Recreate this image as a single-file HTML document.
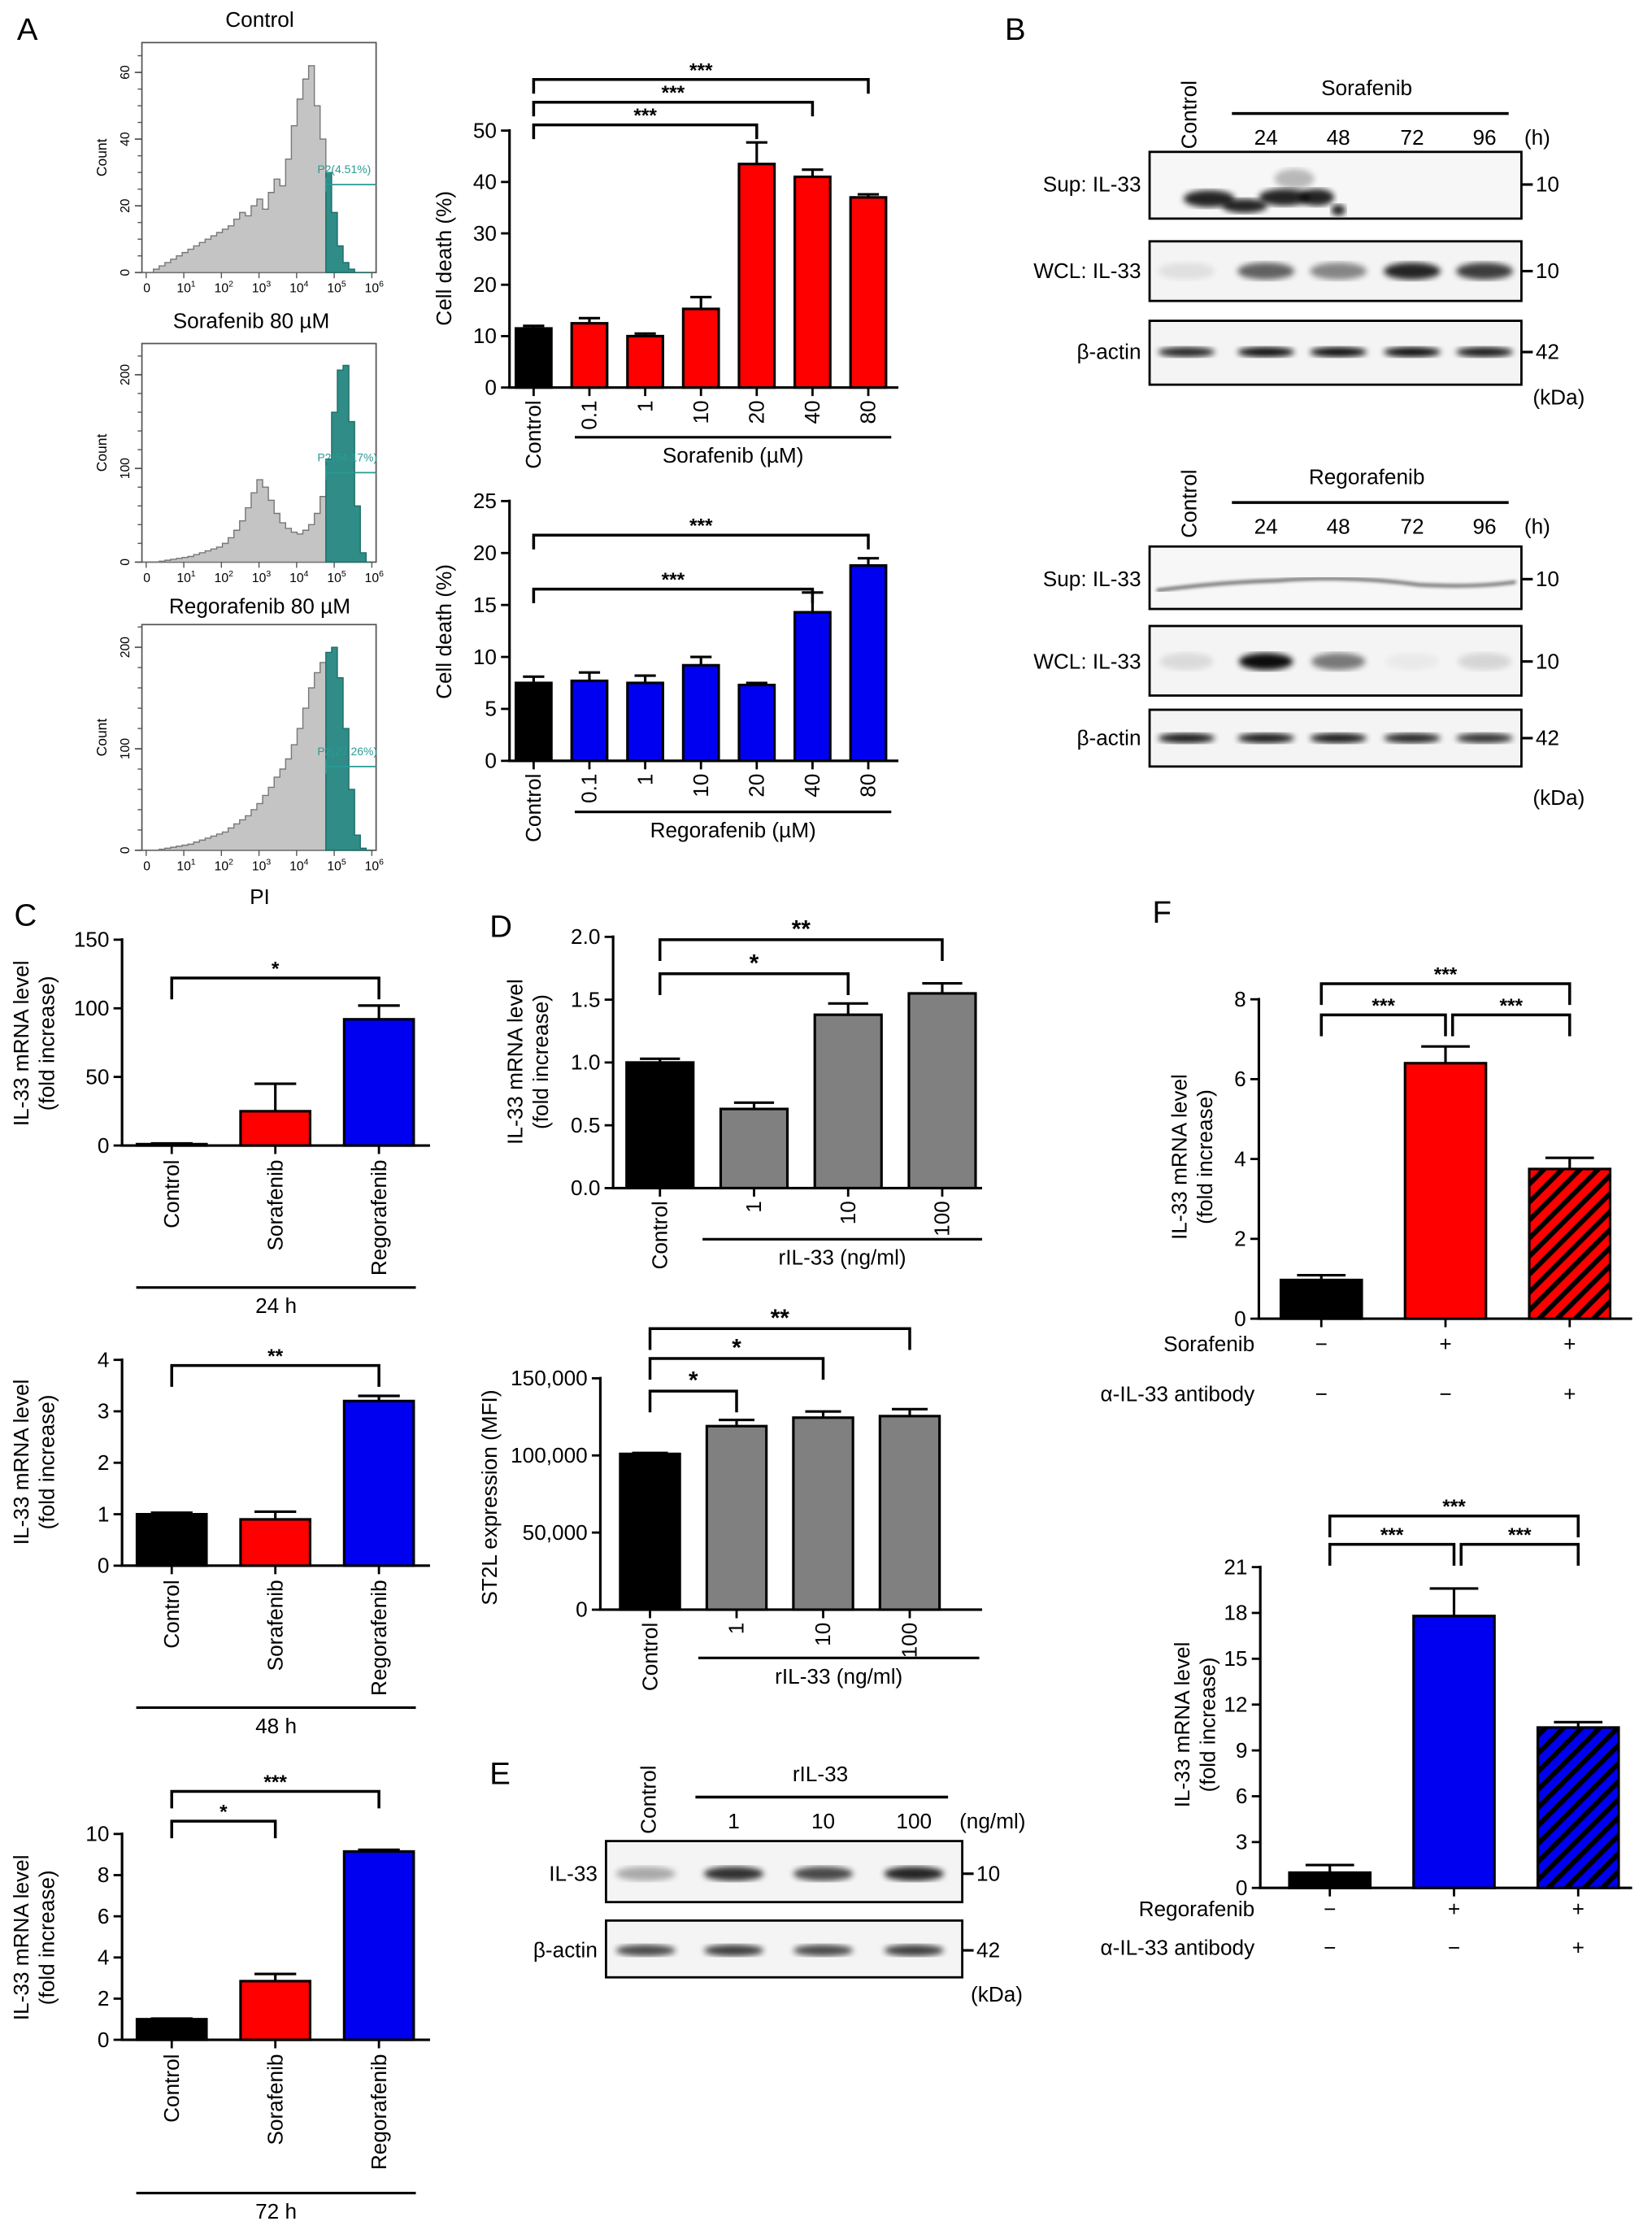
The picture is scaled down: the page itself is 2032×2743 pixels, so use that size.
<!DOCTYPE html>
<html><head><meta charset="utf-8">
<style>
html,body{margin:0;padding:0;background:#fff;}
svg{display:block;font-family:"Liberation Sans",Arial,sans-serif;}
</style></head>
<body>
<svg id="fig" width="2032" height="2743" viewBox="0 0 1164 1571" preserveAspectRatio="none" xmlns="http://www.w3.org/2000/svg">
<defs>
<pattern id="hatchRed" patternUnits="userSpaceOnUse" width="9" height="9" patternTransform="rotate(45)">
<rect width="9" height="9" fill="#f00"/><rect width="3.5" height="9" fill="#000"/></pattern>
<pattern id="hatchBlue" patternUnits="userSpaceOnUse" width="9" height="9" patternTransform="rotate(45)">
<rect width="9" height="9" fill="#0000f0"/><rect width="3.5" height="9" fill="#000"/></pattern>
<filter id="blur2"><feGaussianBlur stdDeviation="2.2"/></filter>
<filter id="blur1"><feGaussianBlur stdDeviation="1.2"/></filter>
</defs>
</svg>
<script>
// ---------- DATA ----------
const catsA = ["Control","0.1","1","10","20","40","80"];
const sorafenibDeath = [11.5,12.5,10,15.3,43.5,41,37];
const sorafenibDeathErr = [0.5,1,0.5,2.3,4.2,1.4,0.6];
const regorafenibDeath = [7.5,7.7,7.5,9.2,7.3,14.3,18.8];
const regorafenibDeathErr = [0.6,0.8,0.7,0.8,0.2,1.9,0.7];
const ticksA1 = [0,10,20,30,40,50];
const ticksA2 = [0,5,10,15,20,25];

const catsC = ["Control","Sorafenib","Regorafenib"];
const mrna24 = [1,25,92];
const mrna24Err = [0.5,20,10];
const mrna48 = [1,0.9,3.2];
const mrna48Err = [0.03,0.15,0.1];
const mrna72 = [1,2.85,9.15];
const mrna72Err = [0.03,0.35,0.08];
const ticksC1 = [0,50,100,150];
const ticksC2 = [0,1,2,3,4];
const ticksC3 = [0,2,4,6,8,10];

const catsD = ["Control","1","10","100"];
const rilMrna = [1.0,0.63,1.38,1.55];
const rilMrnaErr = [0.03,0.05,0.09,0.08];
const st2l = [101000,119000,124500,125500];
const st2lErr = [600,4000,4000,4500];
const ticksD1 = [0,0.5,1.0,1.5,2.0];
const ticksD1Labels = ["0.0","0.5","1.0","1.5","2.0"];
const ticksD2 = [0,50000,100000,150000];
const ticksD2Labels = ["0","50,000","100,000","150,000"];

const sorafAb = [0.97,6.4,3.75];
const sorafAbErr = [0.12,0.42,0.28];
const regoAb = [1.0,17.8,10.5];
const regoAbErr = [0.5,1.8,0.35];
const ticksF1 = [0,2,4,6,8];
const ticksF2 = [0,3,6,9,12,15,18,21];
const rowDrug = ["−","+","+"];
const rowAb = ["−","−","+"];

const histControl = [0,0,1,2,3,4,5,6,7,8,9,10,11,12,13,14,16,18,17,20,22,19,24,28,26,34,44,52,58,62,50,40,30,18,8,3,1,0,0,0];
const histSoraf = [0,0,0,1,2,3,4,5,6,8,10,12,14,16,20,26,34,44,58,74,88,80,66,52,42,36,32,30,34,40,52,70,110,160,205,210,150,60,10,0];
const histRego = [0,0,0,1,2,3,4,5,6,8,10,12,14,16,18,22,26,30,34,40,46,54,62,72,80,90,104,120,140,160,175,185,195,200,170,120,60,15,2,0];

// ---------- HELPERS ----------
const NS = "http://www.w3.org/2000/svg";
const svg = document.getElementById("fig");
function mk(tag, attrs, name, parent) {
  const el = document.createElementNS(NS, tag);
  for (const k in attrs) el.setAttribute(k, attrs[k]);
  
  
  (parent || svg).appendChild(el);
  return el;
}
function grp(name) { return mk("g", {}, name); }
function text(x, y, s, size, name, parent, extra) {
  const a = {x: x, y: y, "font-size": size, fill: "#000"};
  if (extra) for (const k in extra) a[k] = extra[k];
  const t = mk("text", a, name, parent);
  t.textContent = s;
  return t;
}
function vtext(x, y, s, size, name, parent, anchor) {
  return text(x, y, s, size, name, parent, {"text-anchor": anchor || "end", transform: "rotate(-90 " + x + " " + y + ")"});
}
function line(x1, y1, x2, y2, name, parent, w, col) {
  return mk("line", {x1: x1, y1: y1, x2: x2, y2: y2, stroke: col || "#000", "stroke-width": w || 1.6}, name, parent);
}

function barChart(o) {
  const g = grp(o.name);
  const sy = v => o.y0 - (v / o.max) * (o.y0 - o.yTop);
  const drop = o.drop || 10;
  line(o.ax, o.y0, o.ax, o.yTop - 1, "y-axis", g, 1.8);
  line(o.ax - 1, o.y0, o.axEnd, o.y0, "x-axis", g, 1.8);
  o.ticks.forEach((t, i) => {
    line(o.ax - 6, sy(t), o.ax, sy(t), "y-tick", g, 1.6);
    text(o.ax - 9, sy(t) + 5, o.tickLabels ? o.tickLabels[i] : String(t), o.tfs || 15, "y-tick-label", g, {"text-anchor": "end"});
  });
  o.values.forEach((v, i) => {
    const cx = o.cx0 + i * o.step;
    const top = sy(v);
    mk("rect", {x: cx - o.bw / 2, y: top, width: o.bw, height: o.y0 - top, fill: o.fills[i], stroke: "#000", "stroke-width": 1.8}, "bar-" + (o.cats ? o.cats[i] : i), g);
    const et = sy(v + o.errs[i]);
    line(cx, top, cx, et, "error-bar", g, 1.8);
    line(cx - o.bw * 0.3, et, cx + o.bw * 0.3, et, "error-cap", g, 1.8);
    line(cx, o.y0, cx, o.y0 + 6, "x-tick", g, 1.6);
    if (o.cats && o.catY) vtext(cx + 5, o.catY, o.cats[i], o.cfs || 15, "x-tick-label", g);
  });
  (o.brackets || []).forEach(b => {
    const xa = o.cx0 + b[0] * o.step + (b[4] || 0), xb = o.cx0 + b[1] * o.step;
    mk("path", {d: "M" + xa + " " + (b[2] + drop) + " V" + b[2] + " H" + xb + " V" + (b[2] + drop), fill: "none", stroke: "#000", "stroke-width": 2}, "significance-bracket", g);
    text((xa + xb) / 2, b[2] - 2, b[3], o.bigStars ? 17 : 14, "significance-label", g, {"text-anchor": "middle", "font-weight": "bold"});
  });
  if (o.yTitle) {
    o.yTitle.forEach((s, i) => vtext(o.ytx + i * 18, o.yty, s, 15, "y-axis-title", g, "middle"));
  }
  if (o.underline) {
    line(o.underline[0], o.underline[2], o.underline[1], o.underline[2], "group-underline", g, 1.8);
    text((o.underline[0] + o.underline[1]) / 2, o.underline[2] + 18, o.groupLabel, 15, "group-label", g, {"text-anchor": "middle"});
  }
  return {g: g, sy: sy};
}

function hist(o) {
  const g = grp(o.name);
  mk("rect", {x: o.x0, y: o.yTop, width: o.x1 - o.x0, height: o.y0 - o.yTop, fill: "#fff", stroke: "#555", "stroke-width": 1}, "histogram-frame", g);
  const n = o.bins.length, bw = (o.x1 - 3 - o.x0) / n;
  const sy = v => o.y0 - v * o.scale;
  let gray = "M" + o.x0 + " " + o.y0, teal = "M" + (o.x0 + o.gate * bw) + " " + o.y0;
  o.bins.forEach((v, i) => {
    const x = o.x0 + i * bw;
    const seg = " L" + x + " " + sy(v) + " L" + (x + bw) + " " + sy(v);
    if (i < o.gate) gray += seg; else teal += seg;
  });
  gray += " L" + (o.x0 + o.gate * bw) + " " + o.y0 + " Z";
  teal += " L" + (o.x0 + n * bw) + " " + o.y0 + " Z";
  mk("path", {d: gray, fill: "#c4c4c4", stroke: "#777", "stroke-width": 0.8}, "histogram-gray", g);
  mk("path", {d: teal, fill: "#2f8c86", stroke: "#1f6e69", "stroke-width": 0.8}, "histogram-gated", g);
  const gx = o.x0 + o.gate * bw;
  line(gx, o.gateY - 5, gx, o.gateY + 5, "gate-marker", g, 1, "#2a9a94");
  line(gx, o.gateY, o.x1, o.gateY, "gate-line", g, 1, "#2a9a94");
  text(gx - 6, o.gateY - 8, o.gateLabel, 8, "gate-label", g, {fill: "#2a9a94"});
  o.yt.forEach((t, i) => {
    line(o.x0 - 5, sy(t), o.x0, sy(t), "y-tick", g, 1, "#555");
    vtext(o.x0 - 9, sy(t), String(t), 9, "y-tick-label", g, "middle");
  });
  for (let v = 0; v <= o.yt[o.yt.length - 1] + o.minor; v += o.minor) {
    if (sy(v) > o.yTop) line(o.x0 - 3, sy(v), o.x0, sy(v), "y-minor-tick", g, 0.8, "#555");
  }
  vtext(o.x0 - 25, (o.y0 + o.yTop) / 2, "Count", 10, "y-axis-title", g, "middle");
  const lab = ["0", "10", "10", "10", "10", "10", "10"];
  for (let i = 0; i < 7; i++) {
    const x = o.x0 + 3 + i * (o.x1 - o.x0 - 6) / 6;
    line(x, o.y0, x, o.y0 + 4, "x-tick", g, 0.8, "#555");
    const t = text(x - (i ? 5 : 2), o.y0 + 14, lab[i], 9, "x-tick-label", g);
    if (i) { const s = document.createElementNS(NS, "tspan"); s.setAttribute("dy", "-4"); s.setAttribute("font-size", "6"); s.textContent = String(i); t.appendChild(s); }
  }
}

function blot(o) {
  const g = grp(o.name);
  mk("rect", {x: o.x, y: o.y, width: o.w, height: o.h, fill: o.bg || "#f4f4f4", stroke: "#000", "stroke-width": 1.6}, "blot-frame", g);
  (o.bands || []).forEach((v, i) => {
    if (v > 0) mk("ellipse", {cx: o.lanes[i], cy: o.by, rx: o.bw / 2, ry: o.bh / 2, fill: "#000", opacity: v, filter: "url(#blur2)"}, "band", g);
  });
  text(o.x - 6, o.by + 5, o.label, 15, "blot-label", g, {"text-anchor": "end"});
  line(o.x + o.w, o.by, o.x + o.w + 8, o.by, "marker-tick", g, 1.8);
  text(o.x + o.w + 10, o.by + 5, o.kda, 15, "marker-label", g);
  return g;
}

// ---------- PANEL LETTERS ----------
[["A",12,28],["B",708,28],["C",10,652],["D",345,660],["E",345,1257],["F",812,650]].forEach(p => text(p[1], p[2], p[0], 22, "panel-label-" + p[0].toLowerCase()));

// ---------- A: histograms ----------
text(183, 19, "Control", 15, "histogram-title", null, {"text-anchor": "middle"});
hist({name: "histogram-control", x0: 100, x1: 265, yTop: 30, y0: 192, bins: histControl, scale: 2.35, gate: 32, gateY: 130, gateLabel: "P2(4.51%)", yt: [0,20,40,60], minor: 5});
text(177, 231, "Sorafenib 80 \u00b5M", 15, "histogram-title", null, {"text-anchor": "middle"});
hist({name: "histogram-sorafenib", x0: 100, x1: 265, yTop: 242, y0: 396, bins: histSoraf, scale: 0.66, gate: 32, gateY: 333, gateLabel: "P2(54.17%)", yt: [0,100,200], minor: 20});
text(183, 432, "Regorafenib 80 \u00b5M", 15, "histogram-title", null, {"text-anchor": "middle"});
hist({name: "histogram-regorafenib", x0: 100, x1: 265, yTop: 440, y0: 599, bins: histRego, scale: 0.715, gate: 32, gateY: 540, gateLabel: "P2(27.26%)", yt: [0,100,200], minor: 20});
text(183, 637, "PI", 15, "x-axis-title-pi", null, {"text-anchor": "middle"});

// ---------- A: bar charts ----------
barChart({name: "chart-sorafenib-cell-death", ax: 359, axEnd: 633, y0: 273, yTop: 92, max: 50, ticks: ticksA1,
  values: sorafenibDeath, errs: sorafenibDeathErr, fills: ["#000","#f00","#f00","#f00","#f00","#f00","#f00"],
  cx0: 376, step: 39.3, bw: 25, cats: catsA, catY: 282,
  brackets: [[0,4,88,"***"],[0,5,72,"***"],[0,6,56,"***"]],
  yTitle: ["Cell death (%)"], ytx: 318, yty: 182, underline: [405, 628, 308], groupLabel: "Sorafenib (\u00b5M)"});
barChart({name: "chart-regorafenib-cell-death", ax: 359, axEnd: 633, y0: 536, yTop: 353, max: 25, ticks: ticksA2,
  values: regorafenibDeath, errs: regorafenibDeathErr, fills: ["#000","#0000f0","#0000f0","#0000f0","#0000f0","#0000f0","#0000f0"],
  cx0: 376, step: 39.3, bw: 25, cats: catsA, catY: 545,
  brackets: [[0,5,415,"***"],[0,6,377,"***"]],
  yTitle: ["Cell death (%)"], ytx: 318, yty: 445, underline: [405, 628, 572], groupLabel: "Regorafenib (\u00b5M)"});

// ---------- B: blots ----------
function blotHeader(y, label, name) {
  const g = grp(name);
  vtext(843, y + 38, "Control", 15, "lane-label-control", g, "start");
  text(963, y, label, 15, "treatment-label", g, {"text-anchor": "middle"});
  line(868, y + 13, 1063, y + 13, "treatment-underline", g, 2);
  [["24",892],["48",943],["72",995],["96",1046]].forEach(l => text(l[1], y + 35, l[0], 15, "time-label", g, {"text-anchor": "middle"}));
  text(1074, y + 35, "(h)", 15, "time-unit", g);
}
const lanesB = [836, 892, 943, 995, 1046];
blotHeader(67, "Sorafenib", "blot-header-sorafenib");
const supS = blot({name: "blot-sorafenib-sup", x: 810, y: 107, w: 262, h: 47, by: 130, lanes: lanesB, bands: [], bw: 40, bh: 10, label: "Sup: IL-33", kda: "10", bg: "#f7f7f7"});
[[852,140,18,6],[877,145,16,5],[905,139,18,6],[928,139,12,6],[943,148,5,4],[912,126,14,7]].forEach((e, i) =>
  mk("ellipse", {cx: e[0], cy: e[1], rx: e[2], ry: e[3], fill: "#000", opacity: i == 5 ? 0.25 : 0.85, filter: "url(#blur2)"}, "band", supS));
blot({name: "blot-sorafenib-wcl", x: 810, y: 170, w: 262, h: 42, by: 191, lanes: lanesB, bands: [0.08,0.6,0.45,0.85,0.75], bw: 40, bh: 12, label: "WCL: IL-33", kda: "10"});
blot({name: "blot-sorafenib-actin", x: 810, y: 226, w: 262, h: 45, by: 248, lanes: lanesB, bands: [0.85,0.95,0.95,0.95,0.9], bw: 40, bh: 7, label: "\u03b2-actin", kda: "42"});
text(1080, 285, "(kDa)", 15, "kda-unit");

blotHeader(341, "Regorafenib", "blot-header-regorafenib");
const supR = blot({name: "blot-regorafenib-sup", x: 810, y: 385, w: 262, h: 44, by: 408, lanes: lanesB, bands: [], bw: 40, bh: 6, label: "Sup: IL-33", kda: "10", bg: "#f7f7f7"});
mk("path", {d: "M815 416 Q860 410 900 409 Q950 405 1000 412 Q1040 414 1068 410", fill: "none", stroke: "#000", "stroke-width": 1.8, opacity: 0.75, filter: "url(#blur1)"}, "band", supR);
blot({name: "blot-regorafenib-wcl", x: 810, y: 441, w: 262, h: 49, by: 466, lanes: lanesB, bands: [0.1,0.95,0.5,0.04,0.12], bw: 38, bh: 12, label: "WCL: IL-33", kda: "10"});
blot({name: "blot-regorafenib-actin", x: 810, y: 500, w: 262, h: 40, by: 520, lanes: lanesB, bands: [0.9,0.9,0.9,0.85,0.8], bw: 40, bh: 7, label: "\u03b2-actin", kda: "42"});
text(1080, 567, "(kDa)", 15, "kda-unit");

// ---------- C ----------
const fillsC = ["#000", "#f00", "#0000f0"];
barChart({name: "chart-mrna-24h", ax: 86, axEnd: 303, y0: 807, yTop: 662, max: 150, ticks: ticksC1,
  values: mrna24, errs: mrna24Err, fills: fillsC, cx0: 121, step: 73, bw: 49, cats: catsC, catY: 817, drop: 15,
  brackets: [[0,2,689,"*"]], yTitle: ["IL-33 mRNA level", "(fold increase)"], ytx: 20, yty: 735,
  underline: [96, 293, 907], groupLabel: "24 h"});
barChart({name: "chart-mrna-48h", ax: 86, axEnd: 303, y0: 1103, yTop: 958, max: 4, ticks: ticksC2,
  values: mrna48, errs: mrna48Err, fills: fillsC, cx0: 121, step: 73, bw: 49, cats: catsC, catY: 1113, drop: 15,
  brackets: [[0,2,962,"**"]], yTitle: ["IL-33 mRNA level", "(fold increase)"], ytx: 20, yty: 1030,
  underline: [96, 293, 1203], groupLabel: "48 h"});
barChart({name: "chart-mrna-72h", ax: 86, axEnd: 303, y0: 1437, yTop: 1292, max: 10, ticks: ticksC3,
  values: mrna72, errs: mrna72Err, fills: fillsC, cx0: 121, step: 73, bw: 49, cats: catsC, catY: 1447, drop: 12,
  brackets: [[0,1,1283,"*"],[0,2,1262,"***"]], yTitle: ["IL-33 mRNA level", "(fold increase)"], ytx: 20, yty: 1365,
  underline: [96, 293, 1545], groupLabel: "72 h"});

// ---------- D ----------
const fillsD = ["#000", "#808080", "#808080", "#808080"];
barChart({name: "chart-ril33-mrna", ax: 432, axEnd: 692, y0: 837, yTop: 660, max: 2, ticks: ticksD1, tickLabels: ticksD1Labels,
  values: rilMrna, errs: rilMrnaErr, fills: fillsD, cx0: 465, step: 66.3, bw: 47, cats: catsD, catY: 846, drop: 15,
  brackets: [[0,2,686,"*"],[0,3,662,"**"]], bigStars: true, yTitle: ["IL-33 mRNA level", "(fold increase)"], ytx: 368, yty: 748,
  underline: [495, 692, 873], groupLabel: "rIL-33 (ng/ml)"});
barChart({name: "chart-st2l-expression", ax: 423, axEnd: 692, y0: 1134, yTop: 971, max: 150000, ticks: ticksD2, tickLabels: ticksD2Labels,
  values: st2l, errs: st2lErr, fills: fillsD, cx0: 458, step: 61, bw: 42, cats: catsD, catY: 1143, drop: 15,
  brackets: [[0,1,980,"*"],[0,2,957,"*"],[0,3,936,"**"]], bigStars: true, yTitle: ["ST2L expression (MFI)"], ytx: 350, yty: 1055,
  underline: [492, 690, 1168], groupLabel: "rIL-33 (ng/ml)"});

// ---------- E ----------
const eg = grp("blot-header-ril33");
vtext(462, 1292, "Control", 15, "lane-label-control", eg, "start");
text(578, 1255, "rIL-33", 15, "treatment-label", eg, {"text-anchor": "middle"});
line(490, 1266, 668, 1266, "treatment-underline", eg, 2);
[["1",517],["10",580],["100",644]].forEach(l => text(l[1], 1288, l[0], 15, "dose-label", eg, {"text-anchor": "middle"}));
text(676, 1288, "(ng/ml)", 15, "dose-unit", eg);
const lanesE = [455, 517, 580, 644];
blot({name: "blot-ril33-il33", x: 427, y: 1297, w: 251, h: 43, by: 1320, lanes: lanesE, bands: [0.3,0.8,0.7,0.85], bw: 42, bh: 10, label: "IL-33", kda: "10"});
blot({name: "blot-ril33-actin", x: 427, y: 1353, w: 251, h: 40, by: 1374, lanes: lanesE, bands: [0.7,0.75,0.7,0.75], bw: 42, bh: 8, label: "\u03b2-actin", kda: "42"});
text(684, 1410, "(kDa)", 15, "kda-unit");

// ---------- F ----------
function rows(cx0, step, y1, y2, lab1, vals1, vals2, name) {
  const g = grp(name);
  text(884, y1, lab1, 15, "row-label", g, {"text-anchor": "end"});
  text(884, y2, "\u03b1-IL-33 antibody", 15, "row-label", g, {"text-anchor": "end"});
  vals1.forEach((s, i) => text(cx0 + i * step, y1, s, 15, "row-value", g, {"text-anchor": "middle"}));
  vals2.forEach((s, i) => text(cx0 + i * step, y2, s, 15, "row-value", g, {"text-anchor": "middle"}));
}
barChart({name: "chart-sorafenib-antibody", ax: 887, axEnd: 1150, y0: 929, yTop: 704, max: 8, ticks: ticksF1,
  values: sorafAb, errs: sorafAbErr, fills: ["#000", "#f00", "url(#hatchRed)"], cx0: 931, step: 87.5, bw: 57, drop: 15,
  brackets: [[0,1,715,"***"],[1,2,715,"***",5],[0,2,693,"***"]], yTitle: ["IL-33 mRNA level", "(fold increase)"], ytx: 836, yty: 815});
rows(931, 87.5, 952, 987, "Sorafenib", rowDrug, rowAb, "treatment-rows-sorafenib");
barChart({name: "chart-regorafenib-antibody", ax: 888, axEnd: 1150, y0: 1330, yTop: 1104, max: 21, ticks: ticksF2,
  values: regoAb, errs: regoAbErr, fills: ["#000", "#0000f0", "url(#hatchBlue)"], cx0: 937, step: 87.5, bw: 57, drop: 15,
  brackets: [[0,1,1088,"***"],[1,2,1088,"***",5],[0,2,1068,"***"]], yTitle: ["IL-33 mRNA level", "(fold increase)"], ytx: 838, yty: 1215});
rows(937, 87.5, 1350, 1377, "Regorafenib", rowDrug, rowAb, "treatment-rows-regorafenib");
</script>
</body></html>
